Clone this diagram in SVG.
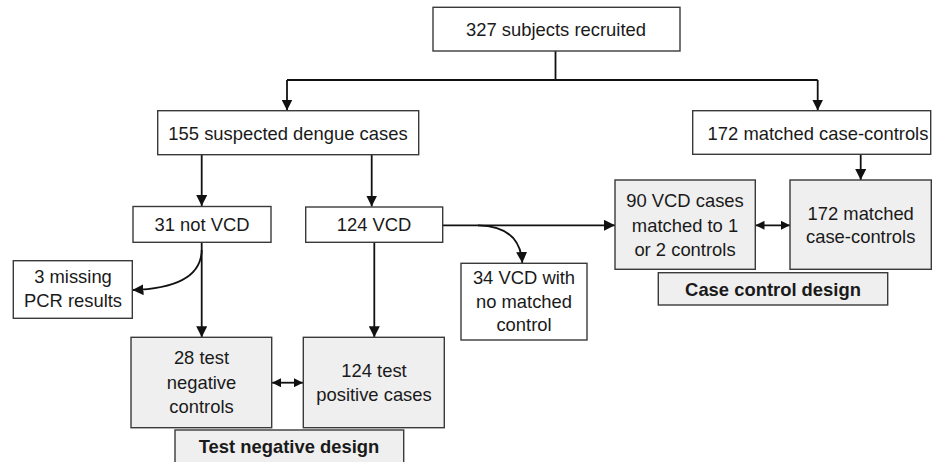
<svg xmlns="http://www.w3.org/2000/svg" width="935" height="462" viewBox="0 0 935 462">
<defs>
<style>
.box{fill:#ffffff;stroke:#3a3a3a;stroke-width:1.4}
.gbox{fill:#efefef;stroke:#3a3a3a;stroke-width:1.4}
.t{font-family:"Liberation Sans",Arial,sans-serif;font-size:18.4px;fill:#1a1a1a;text-anchor:middle}
.b{font-weight:bold}
.c{fill:none;stroke:#111;stroke-width:1.8}
</style>
<marker id="ah" viewBox="0 0 10 10" refX="10" refY="5" markerWidth="11" markerHeight="11" markerUnits="userSpaceOnUse" orient="auto-start-reverse">
<path d="M0,0 L10,5 L0,10 z" fill="#111"/>
</marker>
<marker id="sh" viewBox="0 0 10 10" refX="10" refY="5" markerWidth="9" markerHeight="9" markerUnits="userSpaceOnUse" orient="auto-start-reverse">
<path d="M0,0 L10,5 L0,10 z" fill="#111"/>
</marker>
</defs>
<rect width="935" height="462" fill="#ffffff"/>

<g id="connectors">
<path class="c" d="M555.5,51 V80"/>
<path class="c" d="M287,80 H817.7"/>
<path class="c" d="M287,80 V110.5" marker-end="url(#ah)"/>
<path class="c" d="M817.7,80 V110.5" marker-end="url(#ah)"/>
<path class="c" d="M201.7,155 V206" marker-end="url(#ah)"/>
<path class="c" d="M371.7,155 V206.5" marker-end="url(#ah)"/>
<path class="c" d="M860.7,154.5 V180" marker-end="url(#ah)"/>
<path class="c" d="M442.7,225.3 H615" marker-end="url(#ah)"/>
<path class="c" d="M478,225.3 Q520,226 522.3,263" marker-end="url(#ah)"/>
<path class="c" d="M201.7,242.3 V337.3" marker-end="url(#ah)"/>
<path class="c" d="M201.7,250 Q201,288 132.5,290" marker-end="url(#ah)"/>
<path class="c" d="M374.3,242.3 V337.3" marker-end="url(#ah)"/>
<path class="c" d="M272,382.7 H303" marker-start="url(#sh)" marker-end="url(#sh)"/>
<path class="c" d="M755.5,225.3 H790" marker-start="url(#sh)" marker-end="url(#sh)"/>
</g>

<g id="n327">
<rect class="box" x="433" y="7.3" width="247" height="43.7"/>
<text class="t" x="556" y="36">327 subjects recruited</text>
</g>
<g id="n155">
<rect class="box" x="157.7" y="110.7" width="261" height="44"/>
<text class="t" x="288" y="140">155 suspected dengue cases</text>
</g>
<g id="n172top">
<rect class="box" x="692.7" y="110.7" width="238" height="43.6"/>
<text class="t" x="818" y="140">172 matched case-controls</text>
</g>
<g id="n31">
<rect class="box" x="133" y="206.5" width="138" height="35.8"/>
<text class="t" x="202" y="231">31 not VCD</text>
</g>
<g id="n124vcd">
<rect class="box" x="305.7" y="207" width="137" height="35.3"/>
<text class="t" x="374" y="231">124 VCD</text>
</g>
<g id="n3missing">
<rect class="box" x="13.3" y="260.7" width="119" height="57.6"/>
<text class="t" x="73" y="283">3 missing</text>
<text class="t" x="73" y="307">PCR results</text>
</g>
<g id="n34">
<rect class="box" x="461" y="263.3" width="126" height="76.7"/>
<text class="t" x="524" y="284">34 VCD with</text>
<text class="t" x="524" y="307.7">no matched</text>
<text class="t" x="524" y="331">control</text>
</g>
<g id="n90">
<rect class="gbox" x="615" y="180" width="140.3" height="89.3"/>
<text class="t" x="685" y="207.3">90 VCD cases</text>
<text class="t" x="685" y="232.3">matched to 1</text>
<text class="t" x="685" y="256">or 2 controls</text>
</g>
<g id="n172">
<rect class="gbox" x="790" y="180" width="141.3" height="89.3"/>
<text class="t" x="860.7" y="220">172 matched</text>
<text class="t" x="860.7" y="242.7">case-controls</text>
</g>
<g id="nccd">
<rect class="gbox" x="658.3" y="272.7" width="229.4" height="32.3"/>
<text class="t b" x="773" y="296">Case control design</text>
</g>
<g id="n28">
<rect class="gbox" x="131" y="337.3" width="140.7" height="90.4"/>
<text class="t" x="201.5" y="364.3">28 test</text>
<text class="t" x="201.5" y="389">negative</text>
<text class="t" x="201.5" y="413.3">controls</text>
</g>
<g id="n124test">
<rect class="gbox" x="303.3" y="337.3" width="141" height="90.4"/>
<text class="t" x="374" y="376.7">124 test</text>
<text class="t" x="374" y="401">positive cases</text>
</g>
<g id="ntnd">
<rect class="gbox" x="175" y="430" width="228.7" height="40"/>
<text class="t b" x="289" y="453.3">Test negative design</text>
</g>
</svg>
